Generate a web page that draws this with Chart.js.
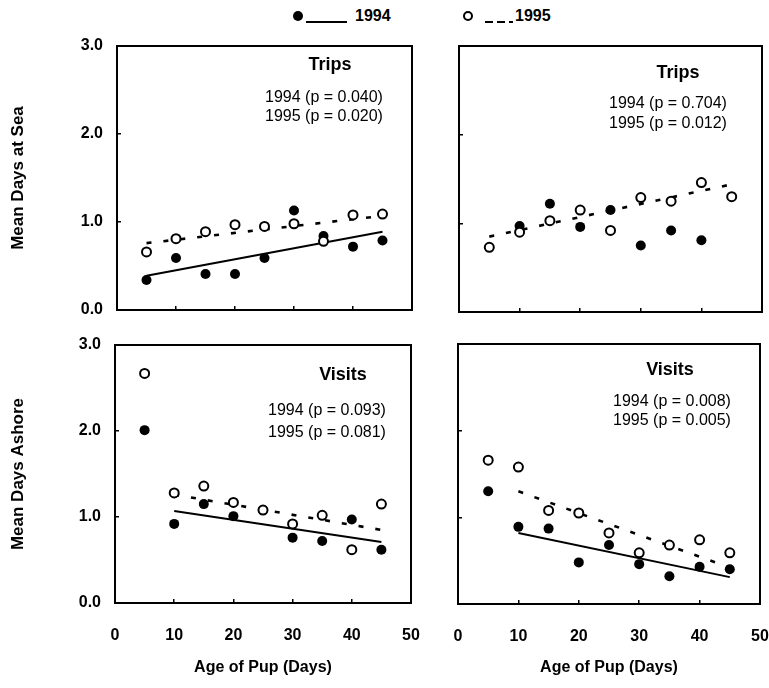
<!DOCTYPE html>
<html>
<head>
<meta charset="utf-8">
<script src="https://cdn.jsdelivr.net/npm/chart.js@4.4.1/dist/chart.umd.min.js"></script>
<style>
  html, body { margin: 0; padding: 0; background: #fff; }
  body { width: 769px; height: 688px; position: relative; overflow: hidden;
         font-family: 'Liberation Sans', Arial, sans-serif; }
  canvas { position: absolute; }
  .dot { position: absolute; box-sizing: border-box; border-radius: 50%; }
  .dot.filled { width: 10px; height: 10px; background: #000; top: 11px; }
  .dot.open { width: 10px; height: 10px; border: 2px solid #000; top: 11px; }
  .ln { position: absolute; top: 21px; height: 2px; }
  .ln.solid { background: #000; }
  .ln.dashed { background: repeating-linear-gradient(90deg, #000 0 8px, transparent 8px 12px); }
  .lbl { position: absolute; top: 7px; font-weight: bold; font-size: 16px; line-height: 18px; }
</style>
</head>
<body>
<span class="dot filled" style="left:293px"></span>
<span class="ln solid" style="left:306px;width:41px"></span>
<span class="lbl" style="left:355px">1994</span>
<span class="dot open" style="left:463px"></span>
<span class="ln dashed" style="left:485px;width:28px"></span>
<span class="lbl" style="left:515px">1995</span>

<canvas id="seaLeft"></canvas>
<canvas id="seaRight"></canvas>
<canvas id="shoreLeft"></canvas>
<canvas id="shoreRight"></canvas>

<script>
// pup age (days) at each sampling point
const ages = [5, 10, 15, 20, 25, 30, 35, 40, 45];
const yTicks = [0, 1, 2, 3];
const xTicks = [0, 10, 20, 30, 40, 50];

// Mean days at sea (trips), left panel
const seaL1994 = [0.34, 0.59, 0.41, 0.41, 0.59, 1.13, 0.84, 0.72, 0.79];
const seaL1995 = [0.66, 0.81, 0.89, 0.97, 0.95, 0.98, 0.78, 1.08, 1.09];
const seaLFit1994 = [[5, 0.39], [45, 0.89]];
const seaLFit1995 = [[5, 0.76], [45, 1.07]];

// Mean days at sea (trips), right panel
const seaR1994 = [null, 0.97, 1.22, 0.96, 1.15, 0.75, 0.92, 0.81, null];
const seaR1995 = [0.73, 0.90, 1.03, 1.15, 0.92, 1.29, 1.25, 1.46, 1.30];
const seaRFit1995 = [[5, 0.85], [45, 1.44]];

// Mean days ashore (visits), left panel
const shoreL1994 = [2.01, 0.92, 1.15, 1.01, 1.08, 0.76, 0.72, 0.97, 0.62];
const shoreL1995 = [2.67, 1.28, 1.36, 1.17, 1.08, 0.92, 1.02, 0.62, 1.15];
const shoreLFit1994 = [[10, 1.07], [45, 0.71]];
const shoreLFit1995 = [[10, 1.26], [45, 0.85]];

// Mean days ashore (visits), right panel
const shoreR1994 = [1.30, 0.89, 0.87, 0.48, 0.68, 0.46, 0.32, 0.43, 0.40];
const shoreR1995 = [1.66, 1.58, 1.08, 1.05, 0.82, 0.59, 0.68, 0.74, 0.59];
const shoreRFit1994 = [[10, 0.82], [45, 0.31]];
const shoreRFit1995 = [[10, 1.30], [45, 0.42]];

const FONT = "'Liberation Sans', Arial, sans-serif";

function pts(ys) {
    return ages.map((x, i) => ({x: x, y: ys[i]})).filter(p => p.y !== null);
}
function fitPts(f) {
    return f.map(p => ({x: p[0], y: p[1]}));
}
function noScalePadding(s) {
    s.paddingTop = 0;
    s.paddingBottom = 0;
    s.paddingLeft = 0;
    s.paddingRight = 0;
}

const panelDecor = {
    id: 'panelDecor',
    afterDraw(chart, args, opts) {
        const ctx = chart.ctx, a = chart.chartArea;
        ctx.save();
        ctx.strokeStyle = '#000';
        ctx.lineWidth = 2;
        ctx.strokeRect(a.left, a.top, a.right - a.left, a.bottom - a.top);
        ctx.fillStyle = '#000';
        ctx.textAlign = 'center';
        ctx.textBaseline = 'middle';
        (opts.texts || []).forEach(t => {
            ctx.font = (t.bold ? 'bold ' : '') + t.size + 'px ' + FONT;
            ctx.fillText(t.text, t.x, t.y);
        });
        ctx.restore();
    }
};

function makePanel(cfg) {
    const [bl, bt, br, bb] = cfg.box;
    const [al, at, ar, ab] = cfg.area;
    const el = document.getElementById(cfg.id);
    el.width = br - bl;
    el.height = bb - bt;
    el.style.left = bl + 'px';
    el.style.top = bt + 'px';

    const datasets = [
        {data: pts(cfg.open), pointRadius: 4.5, pointBorderWidth: 2,
         pointBackgroundColor: '#fff', pointBorderColor: '#000', showLine: false},
        {data: pts(cfg.filled), pointRadius: 5, pointBorderWidth: 0,
         pointBackgroundColor: '#000', pointBorderColor: '#000', showLine: false}
    ];
    if (cfg.fit1995) {
        datasets.push({data: fitPts(cfg.fit1995), showLine: true, pointRadius: 0,
            borderColor: '#000', borderWidth: 2.6, borderDash: [5, 12]});
    }
    if (cfg.fit1994) {
        datasets.push({data: fitPts(cfg.fit1994), showLine: true, pointRadius: 0,
            borderColor: '#000', borderWidth: 2});
    }

    const titleFont = {family: FONT, size: 17, weight: 'bold'};

    new Chart(el, {
        type: 'scatter',
        data: {datasets: datasets},
        plugins: [panelDecor],
        options: {
            responsive: false,
            animation: false,
            layout: {padding: {top: at - bt, right: br - ar, left: 0, bottom: 0}},
            plugins: {
                legend: {display: false},
                tooltip: {enabled: false},
                panelDecor: {
                    texts: cfg.texts.map(t => ({...t, x: t.x - bl, y: t.y - bt}))
                }
            },
            scales: {
                x: {
                    type: 'linear', min: xTicks[0], max: xTicks[xTicks.length - 1],
                    afterBuildTicks: s => { s.ticks = xTicks.map(v => ({value: v})); },
                    afterFit: s => { s.height = bb - ab; noScalePadding(s); },
                    border: {display: false},
                    grid: {drawOnChartArea: false, color: '#000', lineWidth: 1.5, tickLength: -4},
                    ticks: {display: cfg.xLabels, font: {family: FONT, size: 16, weight: 'bold'},
                            color: '#000', padding: 27, maxRotation: 0},
                    title: {display: !!cfg.xTitle, text: cfg.xTitle || '', color: '#000',
                            font: {family: FONT, size: 16, weight: 'bold'},
                            padding: {top: 0, bottom: 11}}
                },
                y: {
                    type: 'linear', min: yTicks[0], max: yTicks[yTicks.length - 1],
                    afterBuildTicks: s => { s.ticks = yTicks.map(v => ({value: v})); },
                    afterFit: s => { s.width = al - bl; noScalePadding(s); },
                    border: {display: false},
                    grid: {drawOnChartArea: false, color: '#000', lineWidth: 1.5, tickLength: -4},
                    ticks: {display: cfg.yLabels, font: {family: FONT, size: 16, weight: 'bold'},
                            color: '#000', padding: 18, callback: v => v.toFixed(1)},
                    title: {display: !!cfg.yTitle, text: cfg.yTitle || '', color: '#000',
                            font: titleFont, padding: {top: 8, bottom: 0}}
                }
            }
        }
    });
}

makePanel({
    id: 'seaLeft', box: [0, 30, 420, 325], area: [117, 46, 412, 310],
    filled: seaL1994, open: seaL1995, fit1994: seaLFit1994, fit1995: seaLFit1995,
    yLabels: true, xLabels: false, yTitle: 'Mean Days at Sea',
    texts: [
        {text: 'Trips', x: 330, y: 65, size: 18, bold: true},
        {text: '1994 (p = 0.040)', x: 324, y: 98, size: 16},
        {text: '1995 (p = 0.020)', x: 324, y: 117, size: 16}
    ]
});

makePanel({
    id: 'seaRight', box: [420, 30, 769, 325], area: [459, 46, 762, 312],
    filled: seaR1994, open: seaR1995, fit1995: seaRFit1995,
    yLabels: false, xLabels: false,
    texts: [
        {text: 'Trips', x: 678, y: 73, size: 18, bold: true},
        {text: '1994 (p = 0.704)', x: 668, y: 104, size: 16},
        {text: '1995 (p = 0.012)', x: 668, y: 124, size: 16}
    ]
});

makePanel({
    id: 'shoreLeft', box: [0, 330, 420, 688], area: [115, 345, 411, 603],
    filled: shoreL1994, open: shoreL1995, fit1994: shoreLFit1994, fit1995: shoreLFit1995,
    yLabels: true, xLabels: true, yTitle: 'Mean Days Ashore', xTitle: 'Age of Pup (Days)',
    texts: [
        {text: 'Visits', x: 343, y: 375, size: 18, bold: true},
        {text: '1994 (p = 0.093)', x: 327, y: 411, size: 16},
        {text: '1995 (p = 0.081)', x: 327, y: 433, size: 16}
    ]
});

makePanel({
    id: 'shoreRight', box: [420, 330, 769, 688], area: [458, 344, 760, 604],
    filled: shoreR1994, open: shoreR1995, fit1994: shoreRFit1994, fit1995: shoreRFit1995,
    yLabels: false, xLabels: true, xTitle: 'Age of Pup (Days)',
    texts: [
        {text: 'Visits', x: 670, y: 370, size: 18, bold: true},
        {text: '1994 (p = 0.008)', x: 672, y: 402, size: 16},
        {text: '1995 (p = 0.005)', x: 672, y: 421, size: 16}
    ]
});
</script>
</body>
</html>
